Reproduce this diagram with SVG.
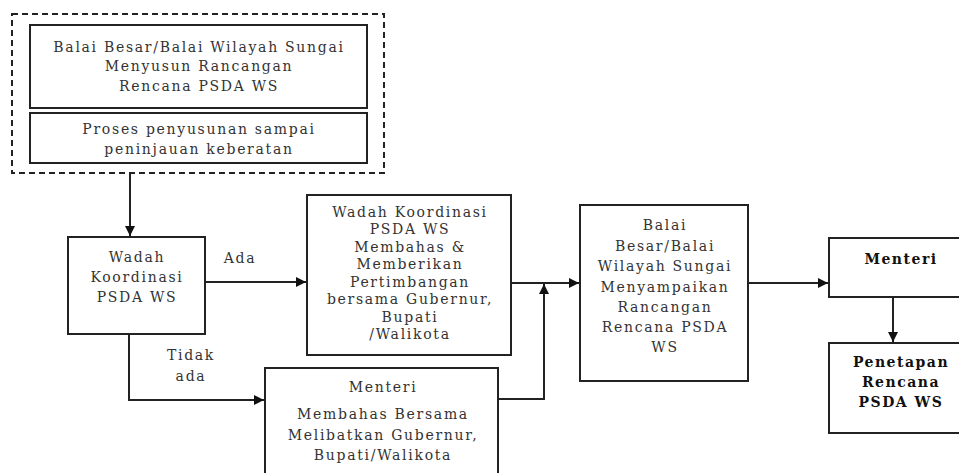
<svg xmlns="http://www.w3.org/2000/svg" width="959" height="473" viewBox="0 0 959 473">
  <defs>
    <marker id="arrow" viewBox="0 0 10 10" refX="10" refY="5" markerWidth="10" markerHeight="10" markerUnits="userSpaceOnUse" orient="auto">
      <path d="M0,0 L10,5 L0,10 z" fill="#111"/>
    </marker>
  </defs>
  <style>
    .box { fill: #fff; stroke: #222; stroke-width: 2; }
    .dash { fill: none; stroke: #222; stroke-width: 2; stroke-dasharray: 6 4; }
    .t { font-family: "DejaVu Serif", "Liberation Serif", serif; font-size: 14px; letter-spacing: 1.7px; fill: #333; text-anchor: middle; }
    .b { font-weight: bold; fill: #111; letter-spacing: 1.5px; }
    .edge { fill: none; stroke: #222; stroke-width: 2; }
  </style>
  <rect width="959" height="473" fill="#fff"/>

  <!-- drafting stage -->
  <g id="drafting">
    <rect class="dash" x="12" y="14" width="372" height="159"/>
    <g id="balai-menyusun">
      <rect class="box" x="30" y="25" width="337" height="83"/>
      <text class="t" x="199" y="52">Balai Besar/Balai Wilayah Sungai</text>
      <text class="t" x="199" y="71">Menyusun Rancangan</text>
      <text class="t" x="199" y="91">Rencana PSDA WS</text>
    </g>
    <g id="proses">
      <rect class="box" x="30" y="113" width="337" height="50"/>
      <text class="t" x="199" y="134">Proses penyusunan sampai</text>
      <text class="t" x="199" y="154">peninjauan keberatan</text>
    </g>
  </g>

  <g id="wadah">
    <rect class="box" x="68" y="237" width="137" height="97"/>
    <text class="t" x="137" y="262">Wadah</text>
    <text class="t" x="137" y="282">Koordinasi</text>
    <text class="t" x="137" y="302">PSDA WS</text>
  </g>

  <g id="wadah-membahas">
    <rect class="box" x="307" y="195" width="204" height="160"/>
    <text class="t" x="410" y="217">Wadah Koordinasi</text>
    <text class="t" x="410" y="234">PSDA WS</text>
    <text class="t" x="410" y="252">Membahas &amp;</text>
    <text class="t" x="410" y="269">Memberikan</text>
    <text class="t" x="410" y="287">Pertimbangan</text>
    <text class="t" x="410" y="304">bersama Gubernur,</text>
    <text class="t" x="410" y="322">Bupati</text>
    <text class="t" x="410" y="339">/Walikota</text>
  </g>

  <g id="menteri-membahas">
    <rect class="box" x="265" y="368" width="233" height="115"/>
    <text class="t" x="383" y="392">Menteri</text>
    <text class="t" x="383" y="419">Membahas Bersama</text>
    <text class="t" x="383" y="440">Melibatkan Gubernur,</text>
    <text class="t" x="383" y="460">Bupati/Walikota</text>
  </g>

  <g id="balai-menyampaikan">
    <rect class="box" x="580" y="205" width="168" height="176"/>
    <text class="t" x="665" y="230">Balai</text>
    <text class="t" x="665" y="251">Besar/Balai</text>
    <text class="t" x="665" y="271">Wilayah Sungai</text>
    <text class="t" x="665" y="292">Menyampaikan</text>
    <text class="t" x="665" y="312">Rancangan</text>
    <text class="t" x="665" y="332">Rencana PSDA</text>
    <text class="t" x="665" y="352">WS</text>
  </g>

  <g id="menteri">
    <rect class="box" x="829" y="238" width="140" height="59"/>
    <text class="t b" x="901" y="264">Menteri</text>
  </g>

  <g id="penetapan">
    <rect class="box" x="829" y="343" width="140" height="90"/>
    <text class="t b" x="901" y="367">Penetapan</text>
    <text class="t b" x="901" y="387">Rencana</text>
    <text class="t b" x="901" y="407">PSDA WS</text>
  </g>

  <g id="connectors">
    <path class="edge" d="M130,173 V236" marker-end="url(#arrow)"/>
    <path class="edge" d="M205,282 H306" marker-end="url(#arrow)"/>
    <path class="edge" d="M129,334 V400 H264" marker-end="url(#arrow)"/>
    <path class="edge" d="M511,283 H579" marker-end="url(#arrow)"/>
    <path class="edge" d="M498,399 H544 V284" marker-end="url(#arrow)"/>
    <path class="edge" d="M748,283 H828" marker-end="url(#arrow)"/>
    <path class="edge" d="M893,297 V342" marker-end="url(#arrow)"/>
    <text class="t" x="240" y="263">Ada</text>
    <text class="t" x="191" y="360">Tidak</text>
    <text class="t" x="191" y="381">ada</text>
  </g>
</svg>
